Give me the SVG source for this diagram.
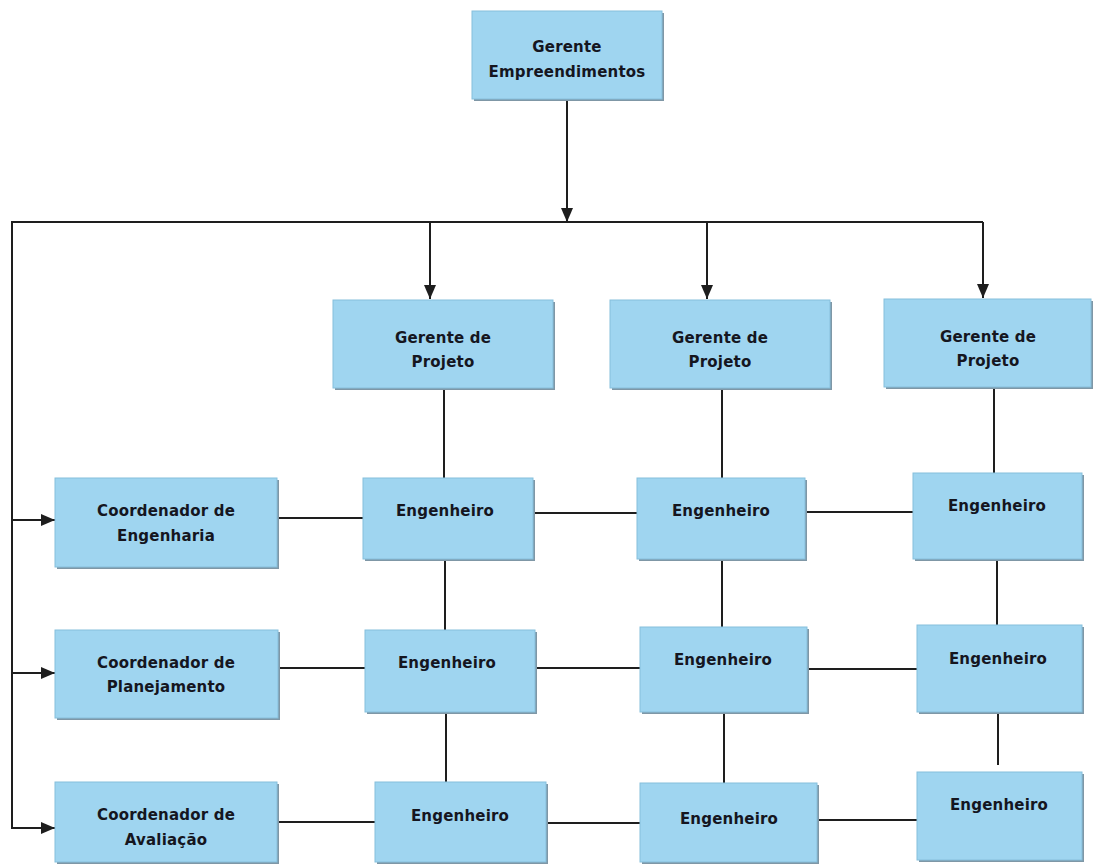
<svg xmlns="http://www.w3.org/2000/svg" width="1096" height="867" viewBox="0 0 1096 867">
<style>
.box{fill:#9fd5f0;stroke:#86bfdc;stroke-width:1}
.sh{fill:#7f97a6}
.t{font-family:"DejaVu Sans","Liberation Sans",sans-serif;font-weight:bold;font-size:15px;fill:#15161f;text-anchor:middle;letter-spacing:0.2px}
.ln{stroke:#1e1e1e;stroke-width:2;fill:none}
</style>
<defs>
<marker id="ah" markerUnits="userSpaceOnUse" markerWidth="14" markerHeight="12" refX="14" refY="6" orient="auto">
<path d="M0,0 L14,6 L0,12 z" fill="#1e1e1e"/>
</marker>
</defs>
<rect width="1096" height="867" fill="#ffffff"/>
<g id="connectors">
<line class="ln" x1="567" y1="100" x2="567" y2="222" marker-end="url(#ah)"/>
<polyline class="ln" points="983,222 12,222 12,828"/>
<line class="ln" x1="430" y1="222" x2="430" y2="299" marker-end="url(#ah)"/>
<line class="ln" x1="707" y1="222" x2="707" y2="299" marker-end="url(#ah)"/>
<line class="ln" x1="983" y1="222" x2="983" y2="298" marker-end="url(#ah)"/>
<line class="ln" x1="12" y1="520" x2="55" y2="520" marker-end="url(#ah)"/>
<line class="ln" x1="12" y1="673" x2="55" y2="673" marker-end="url(#ah)"/>
<line class="ln" x1="11" y1="828" x2="55" y2="828" marker-end="url(#ah)"/>
<line class="ln" x1="277" y1="518" x2="363" y2="518"/>
<line class="ln" x1="533" y1="513" x2="637" y2="513"/>
<line class="ln" x1="805" y1="512" x2="913" y2="512"/>
<line class="ln" x1="278" y1="668" x2="365" y2="668"/>
<line class="ln" x1="535" y1="668" x2="640" y2="668"/>
<line class="ln" x1="807" y1="669" x2="917" y2="669"/>
<line class="ln" x1="277" y1="822" x2="375" y2="822"/>
<line class="ln" x1="546" y1="823" x2="640" y2="823"/>
<line class="ln" x1="817" y1="820" x2="917" y2="820"/>
<line class="ln" x1="444" y1="388" x2="444" y2="478"/>
<line class="ln" x1="445" y1="558" x2="445" y2="630"/>
<line class="ln" x1="446" y1="712" x2="446" y2="782"/>
<line class="ln" x1="722" y1="388" x2="722" y2="478"/>
<line class="ln" x1="722" y1="560" x2="722" y2="627"/>
<line class="ln" x1="724" y1="712" x2="724" y2="783"/>
<line class="ln" x1="994" y1="386" x2="994" y2="473"/>
<line class="ln" x1="997" y1="559" x2="997" y2="625"/>
<line class="ln" x1="998" y1="712" x2="998" y2="765"/>
</g>
<g id="gerente-empreendimentos">
<rect class="sh" x="474" y="13" width="190" height="88"/>
<rect class="box" x="472" y="11" width="190" height="88"/>
<text class="t" x="567" y="52">Gerente</text>
<text class="t" x="567" y="77">Empreendimentos</text>
</g>
<g id="gerente-projeto-1">
<rect class="sh" x="335" y="302" width="220" height="88"/>
<rect class="box" x="333" y="300" width="220" height="88"/>
<text class="t" x="443" y="343">Gerente de</text>
<text class="t" x="443" y="367">Projeto</text>
</g>
<g id="gerente-projeto-2">
<rect class="sh" x="612" y="302" width="220" height="88"/>
<rect class="box" x="610" y="300" width="220" height="88"/>
<text class="t" x="720" y="343">Gerente de</text>
<text class="t" x="720" y="367">Projeto</text>
</g>
<g id="gerente-projeto-3">
<rect class="sh" x="886" y="301" width="207" height="88"/>
<rect class="box" x="884" y="299" width="207" height="88"/>
<text class="t" x="988" y="342">Gerente de</text>
<text class="t" x="988" y="366">Projeto</text>
</g>
<g id="coord-engenharia">
<rect class="sh" x="57" y="480" width="222" height="89"/>
<rect class="box" x="55" y="478" width="222" height="89"/>
<text class="t" x="166" y="516">Coordenador de</text>
<text class="t" x="166" y="541">Engenharia</text>
</g>
<g id="coord-planejamento">
<rect class="sh" x="57" y="632" width="223" height="88"/>
<rect class="box" x="55" y="630" width="223" height="88"/>
<text class="t" x="166" y="668">Coordenador de</text>
<text class="t" x="166" y="692">Planejamento</text>
</g>
<g id="coord-avaliacao">
<rect class="sh" x="57" y="784" width="222" height="80"/>
<rect class="box" x="55" y="782" width="222" height="80"/>
<text class="t" x="166" y="820">Coordenador de</text>
<text class="t" x="166" y="845">Avaliação</text>
</g>
<g id="eng-1-1">
<rect class="sh" x="365" y="480" width="170" height="81"/>
<rect class="box" x="363" y="478" width="170" height="81"/>
<text class="t" x="445" y="516">Engenheiro</text>
</g>
<g id="eng-1-2">
<rect class="sh" x="639" y="480" width="168" height="81"/>
<rect class="box" x="637" y="478" width="168" height="81"/>
<text class="t" x="721" y="516">Engenheiro</text>
</g>
<g id="eng-1-3">
<rect class="sh" x="915" y="475" width="169" height="86"/>
<rect class="box" x="913" y="473" width="169" height="86"/>
<text class="t" x="997" y="511">Engenheiro</text>
</g>
<g id="eng-2-1">
<rect class="sh" x="367" y="632" width="170" height="82"/>
<rect class="box" x="365" y="630" width="170" height="82"/>
<text class="t" x="447" y="668">Engenheiro</text>
</g>
<g id="eng-2-2">
<rect class="sh" x="642" y="629" width="167" height="85"/>
<rect class="box" x="640" y="627" width="167" height="85"/>
<text class="t" x="723" y="665">Engenheiro</text>
</g>
<g id="eng-2-3">
<rect class="sh" x="919" y="627" width="165" height="87"/>
<rect class="box" x="917" y="625" width="165" height="87"/>
<text class="t" x="998" y="664">Engenheiro</text>
</g>
<g id="eng-3-1">
<rect class="sh" x="377" y="784" width="171" height="80"/>
<rect class="box" x="375" y="782" width="171" height="80"/>
<text class="t" x="460" y="821">Engenheiro</text>
</g>
<g id="eng-3-2">
<rect class="sh" x="642" y="785" width="177" height="79"/>
<rect class="box" x="640" y="783" width="177" height="79"/>
<text class="t" x="729" y="824">Engenheiro</text>
</g>
<g id="eng-3-3">
<rect class="sh" x="919" y="774" width="165" height="88"/>
<rect class="box" x="917" y="772" width="165" height="88"/>
<text class="t" x="999" y="810">Engenheiro</text>
</g>
</svg>
